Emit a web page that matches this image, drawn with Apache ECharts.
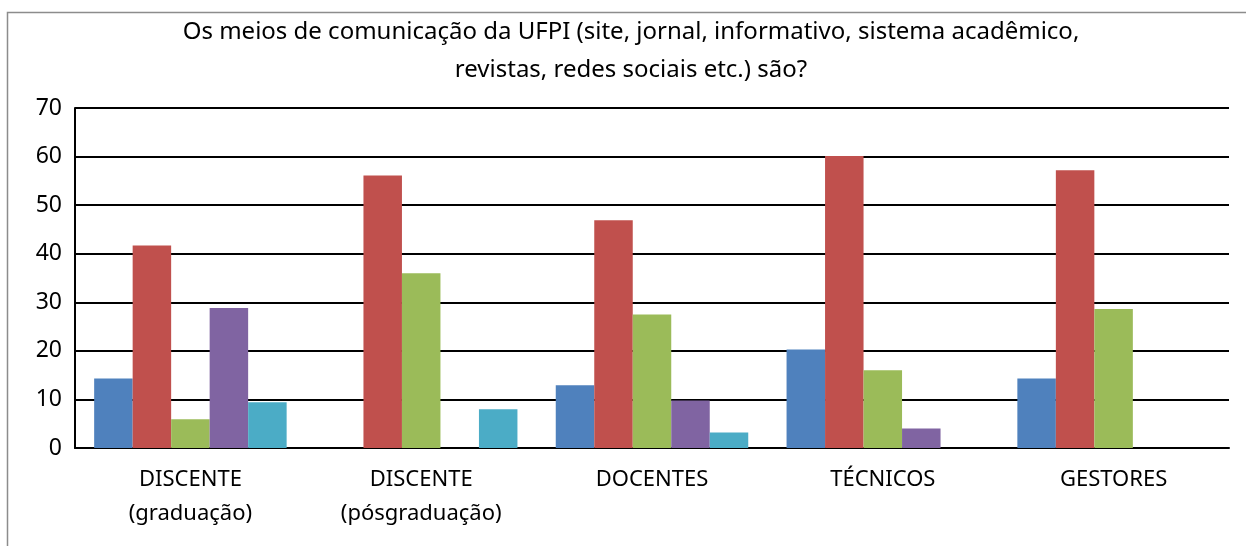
<!DOCTYPE html>
<html>
<head>
<meta charset="utf-8">
<script src="https://cdn.jsdelivr.net/npm/echarts@6/dist/echarts.min.js"></script>
<style>
  html, body { margin: 0; padding: 0; background: #fff; }
  #chart { width: 1246px; height: 546px; }
</style>
</head>
<body>
<div id="chart"></div>
<script>
// Categories (respondent groups)
const categories = [
  'DISCENTE\n(graduação)',
  'DISCENTE\n(pósgraduação)',
  'DOCENTES',
  'TÉCNICOS',
  'GESTORES'
];

// Series values per category
const serie1 = [14.3, 0, 12.9, 20.3, 14.3];
const serie2 = [41.7, 56.1, 46.9, 60.1, 57.2];
const serie3 = [5.9, 36.0, 27.5, 16.0, 28.6];
const serie4 = [28.8, 0, 9.8, 4.0, 0];
const serie5 = [9.4, 8.0, 3.2, 0, 0];

const seriesNames = ['Série 1', 'Série 2', 'Série 3', 'Série 4', 'Série 5'];
const seriesData = [serie1, serie2, serie3, serie4, serie5];
const colors = ['#4F81BD', '#C0504D', '#9BBB59', '#8064A2', '#4BACC6'];

const titleText = 'Os meios de comunicação da UFPI (site, jornal, informativo, sistema acadêmico,\nrevistas, redes sociais etc.) são?';

const FONT = '"Noto Sans", "Open Sans", sans-serif';

const chart = echarts.init(document.getElementById('chart'), null, { renderer: 'canvas' });

chart.setOption({
  animation: false,
  backgroundColor: '#ffffff',
  color: colors,
  title: {
    text: titleText,
    left: 631,
    textAlign: 'center',
    top: 13,
    padding: 0,
    textStyle: {
      fontFamily: FONT,
      fontSize: 24,
      fontWeight: 'normal',
      color: '#000',
      lineHeight: 38
    }
  },
  graphic: [{
    type: 'rect',
    shape: { x: 7.5, y: 12.5, width: 1300, height: 600 },
    style: { fill: 'none', stroke: '#8c8c8c', lineWidth: 1.5 },
    silent: true,
    z: -1
  }],
  grid: {
    left: 75,
    right: 17,
    top: 108,
    bottom: 98,
    containLabel: false
  },
  xAxis: {
    type: 'category',
    data: categories,
    axisLine: { show: true, lineStyle: { color: '#000', width: 2 } },
    axisTick: { show: false },
    axisLabel: {
      fontFamily: FONT,
      fontSize: 22,
      color: '#000',
      lineHeight: 34,
      margin: 15,
      interval: 0
    }
  },
  yAxis: {
    type: 'value',
    min: 0,
    max: 70,
    interval: 10,
    axisLine: { show: true, lineStyle: { color: '#000', width: 2 } },
    axisTick: { show: false },
    splitLine: { show: true, lineStyle: { color: '#000', width: 2 } },
    axisLabel: {
      fontFamily: FONT,
      fontSize: 23,
      color: '#000',
      margin: 13
    }
  },
  series: seriesData.map((d, i) => ({
    name: seriesNames[i],
    type: 'bar',
    data: d,
    barGap: '0%',
    barCategoryGap: '16.6%',
    itemStyle: { color: colors[i] }
  }))
});
</script>
</body>
</html>
